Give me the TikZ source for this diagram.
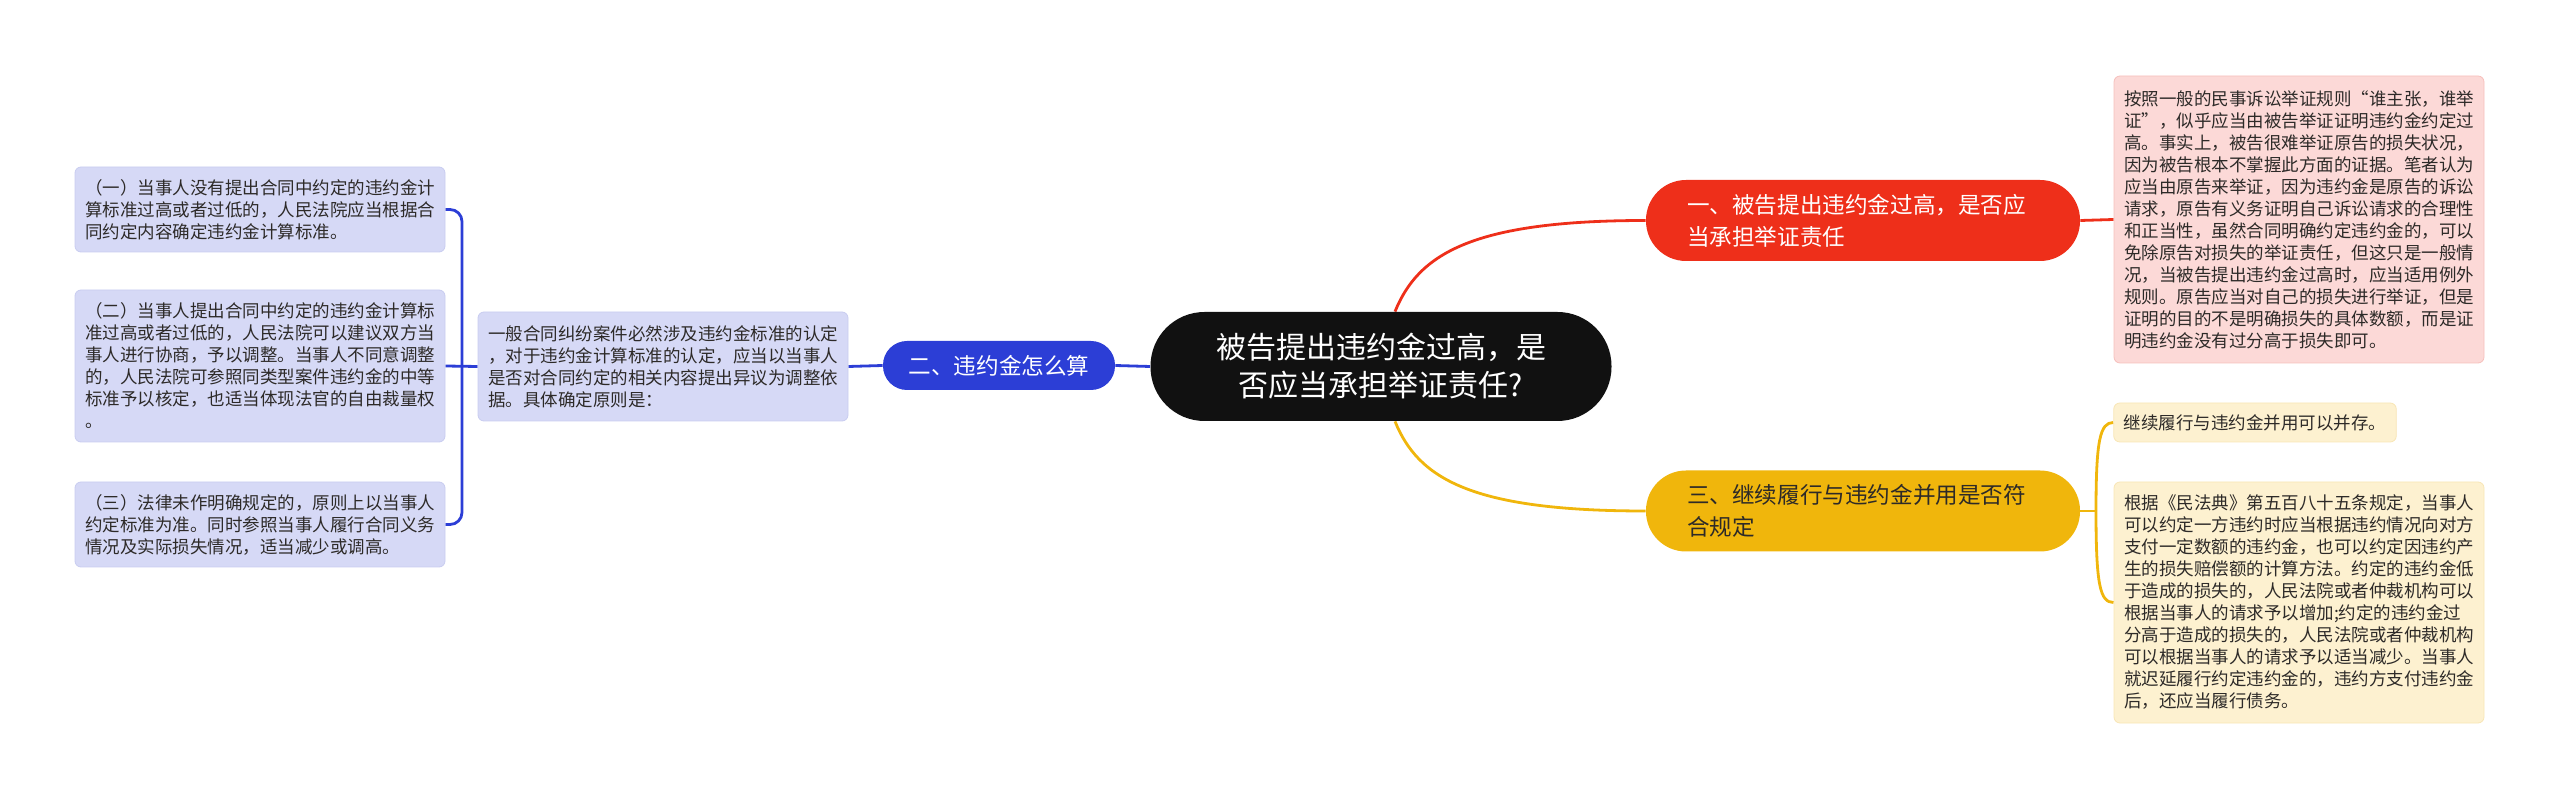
\documentclass[tikz,border=0pt]{standalone}
\usepackage{fontspec}
\setmainfont{Noto Sans CJK SC}
\usetikzlibrary{backgrounds}
\definecolor{rootcol}{RGB}{17,17,17}
\definecolor{redcol}{RGB}{238,47,26}
\definecolor{redbox}{RGB}{252,217,215}
\definecolor{rededge}{RGB}{246,192,188}
\definecolor{bluecol}{RGB}{44,62,214}
\definecolor{bluebox}{RGB}{214,217,246}
\definecolor{blueedge}{RGB}{200,204,240}
\definecolor{yellowcol}{RGB}{240,182,12}
\definecolor{yellowbox}{RGB}{253,241,208}
\definecolor{yellowedge}{RGB}{248,230,182}
\definecolor{darktext}{RGB}{45,42,40}
\newcommand{\curvedraw}[5]{\draw[#1] (#2) .. controls (#3) and (#4) .. (#5)}

\tikzset{
  root/.style={fill=rootcol, text=white, rounded corners=27pt, align=center,
    minimum width=230.5pt, minimum height=54.5pt, font=\fontsize{15}{19}\selectfont},
  topic/.style={rounded corners=20pt, align=left, minimum height=40.5pt,
    inner xsep=20.5pt, font=\fontsize{11.3}{16}\selectfont},
  leaf/.style={draw, rounded corners=3pt, align=left, inner xsep=5pt, inner ysep=0pt,
    text=darktext, font=\fontsize{8.75}{11}\selectfont},
  link/.style={line width=1.4pt}
}

\begin{document}
\begin{tikzpicture}[x=0.5pt,y=-0.5pt]
\useasboundingbox (0,0) rectangle (2560,801);

\node[root] (n0) at (1381,366.5) {被告提出违约金过高，是\\否应当承担举证责任?};

\node[topic, fill=redcol, text=white, text width=176pt] (n1) at (1863,220.5)
  {一、被告提出违约金过高，是否应\\当承担举证责任};
\node[topic, fill=bluecol, text=white, rounded corners=12pt, minimum height=24.5pt,
  minimum width=116pt, inner xsep=12pt, align=center] (n2) at (999,365.5) {二、违约金怎么算};
\node[topic, fill=yellowcol, text=darktext, text width=176pt] (n3) at (1863,511)
  {三、继续履行与违约金并用是否符\\合规定};

% red side
\node[leaf, fill=redbox, draw=rededge, text width=175pt, minimum height=143.5pt] (n11) at (2299,219.5)
  {按照一般的民事诉讼举证规则“谁主张，谁举\\证”，似乎应当由被告举证证明违约金约定过\\高。事实上，被告很难举证原告的损失状况，\\因为被告根本不掌握此方面的证据。笔者认为\\应当由原告来举证，因为违约金是原告的诉讼\\请求，原告有义务证明自己诉讼请求的合理性\\和正当性，虽然合同明确约定违约金的，可以\\免除原告对损失的举证责任，但这只是一般情\\况，当被告提出违约金过高时，应当适用例外\\规则。原告应当对自己的损失进行举证，但是\\证明的目的不是明确损失的具体数额，而是证\\明违约金没有过分高于损失即可。};

% blue side
\node[leaf, fill=bluebox, draw=blueedge, text width=175pt, minimum height=54.5pt] (n21) at (663,366.5)
  {一般合同纠纷案件必然涉及违约金标准的认定\\，对于违约金计算标准的认定，应当以当事人\\是否对合同约定的相关内容提出异议为调整依\\据。具体确定原则是：};
\node[leaf, fill=bluebox, draw=blueedge, text width=175pt, minimum height=42.5pt] (n211) at (260,209.5)
  {（一）当事人没有提出合同中约定的违约金计\\算标准过高或者过低的，人民法院应当根据合\\同约定内容确定违约金计算标准。};
\node[leaf, fill=bluebox, draw=blueedge, text width=175pt, minimum height=76pt] (n212) at (260,366)
  {（二）当事人提出合同中约定的违约金计算标\\准过高或者过低的，人民法院可以建议双方当\\事人进行协商，予以调整。当事人不同意调整\\的，人民法院可参照同类型案件违约金的中等\\标准予以核定，也适当体现法官的自由裁量权\\。};
\node[leaf, fill=bluebox, draw=blueedge, text width=175pt, minimum height=42.5pt] (n213) at (260,524.5)
  {（三）法律未作明确规定的，原则上以当事人\\约定标准为准。同时参照当事人履行合同义务\\情况及实际损失情况，适当减少或调高。};

% yellow side
\node[leaf, fill=yellowbox, draw=yellowedge, minimum height=19.5pt] (n31) at (2255,422.5)
  {继续履行与违约金并用可以并存。};
\node[leaf, fill=yellowbox, draw=yellowedge, text width=175pt, minimum height=120.5pt] (n32) at (2299,602.5)
  {根据《民法典》第五百八十五条规定，当事人\\可以约定一方违约时应当根据违约情况向对方\\支付一定数额的违约金，也可以约定因违约产\\生的损失赔偿额的计算方法。约定的违约金低\\于造成的损失的，人民法院或者仲裁机构可以\\根据当事人的请求予以增加;约定的违约金过\\分高于造成的损失的，人民法院或者仲裁机构\\可以根据当事人的请求予以适当减少。当事人\\就迟延履行约定违约金的，违约方支付违约金\\后，还应当履行债务。};

\coordinate (y0) at (2096,511);

\begin{scope}[on background layer]
  \curvedraw{link, redcol}{[xshift=7pt]n0.north}{1418,255}{1470,220.5}{n1.west};
  \curvedraw{link, yellowcol}{[xshift=7pt]n0.south}{1418,478}{1470,511}{n3.west};
  \draw[link, bluecol] (n0.west) -- (n2.east);
  \draw[link, bluecol] (n2.west) -- (n21.east);
  \draw[link, bluecol] (n21.west) -- (n212.east);
  \draw[link, bluecol, rounded corners=6pt] (n211.east) -- (462,209.5) -- (462,524.5) -- (n213.east);
  \draw[link, redcol] (n1.east) -- (n11.west);
  \draw[link, yellowcol] (n3.east) -- (y0);
  \curvedraw{link, yellowcol}{y0}{2096,440}{2100,422.5}{n31.west};
  \curvedraw{link, yellowcol}{y0}{2096,585}{2100,602.5}{n32.west};
\end{scope}
\end{tikzpicture}
\end{document}
